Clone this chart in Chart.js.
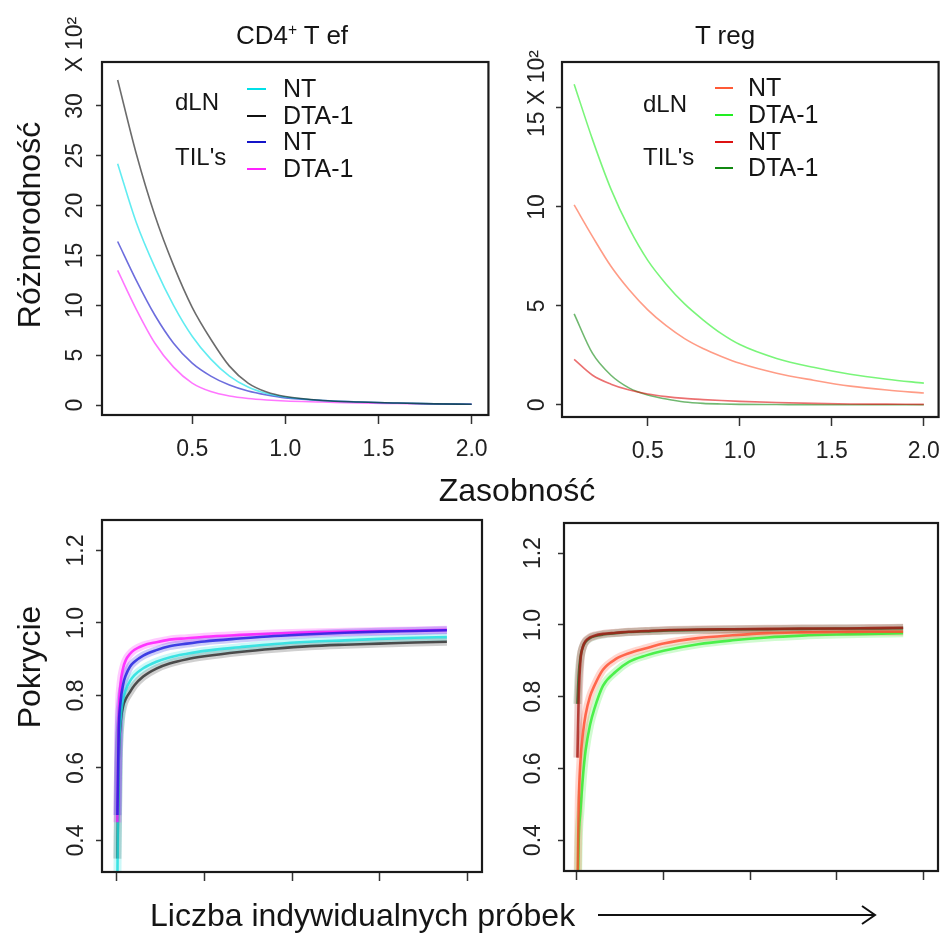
<!DOCTYPE html>
<html>
<head>
<meta charset="utf-8">
<script src="https://cdn.jsdelivr.net/npm/chart.js@4.4.1/dist/chart.umd.min.js"></script>
<style>
  body { margin: 0; background: #fff; width: 952px; height: 935px; position: relative; overflow: hidden;
         font-family: "Liberation Sans", Arial, sans-serif; color: #151515; }
  canvas { position: absolute; }
  .txt { position: absolute; white-space: nowrap; line-height: 1; transform: translate(-50%, -50%); z-index: 2; }
  .rot { transform: translate(-50%, -50%) rotate(-90deg); }
  .title { font-size: 26px; }
  .axis { font-size: 32px; }
  sup { font-size: 60%; vertical-align: 0.55em; }
</style>
</head>
<body>

<canvas id="tef" width="500" height="470" style="left:0;top:0"></canvas>
<canvas id="treg" width="452" height="470" style="left:500px;top:0"></canvas>
<canvas id="covTef" width="500" height="465" style="left:0;top:470px"></canvas>
<canvas id="covTreg" width="452" height="465" style="left:500px;top:470px"></canvas>

<div class="txt title" style="left:292px;top:35px">CD4<sup>+</sup> T ef</div>
<div class="txt title" style="left:725px;top:35px">T reg</div>
<div class="txt axis rot" style="left:29px;top:225px">Różnorodność</div>
<div class="txt axis" style="left:517px;top:490px">Zasobność</div>
<div class="txt axis rot" style="left:29px;top:667px">Pokrycie</div>
<div class="txt axis" style="left:150px;top:915px;transform:translate(0,-50%)">Liczba indywidualnych próbek</div>
<svg style="position:absolute;left:590px;top:900px" width="300" height="30">
  <line x1="8" y1="15" x2="284" y2="15" stroke="#111" stroke-width="2"/>
  <polyline points="272,6 285,15 272,24" fill="none" stroke="#111" stroke-width="2"/>
</svg>

<script>
// ---- diversity profiles (top row), x = order q, y in units of 10^2 ----
const qValues = [0.1, 0.2, 0.3, 0.4, 0.5, 0.6, 0.7, 0.8, 0.9, 1.0, 1.2, 1.4, 1.6, 1.8, 2.0];

const tefDlnNT  = [24.2, 18.3, 13.8, 10.0, 6.9, 4.6, 2.9, 1.8, 1.15, 0.8, 0.45, 0.3, 0.2, 0.12, 0.08];
const tefDlnDTA = [32.6, 25.2, 19.0, 14.0, 9.8, 6.6, 3.9, 2.2, 1.3, 0.85, 0.45, 0.3, 0.2, 0.12, 0.08];
const tefTilNT  = [16.4, 12.5, 9.0, 6.2, 4.2, 2.9, 2.0, 1.4, 1.0, 0.7, 0.45, 0.3, 0.2, 0.12, 0.08];
const tefTilDTA = [13.5, 9.6, 6.2, 3.8, 2.2, 1.35, 0.9, 0.65, 0.5, 0.4, 0.3, 0.2, 0.15, 0.1, 0.08];

const tregDlnNT  = [10.1, 8.5, 7.0, 5.8, 4.8, 4.0, 3.35, 2.85, 2.45, 2.1, 1.6, 1.25, 0.95, 0.75, 0.6];
const tregDlnDTA = [16.2, 13.4, 10.9, 8.9, 7.3, 6.1, 5.1, 4.3, 3.6, 3.05, 2.35, 1.9, 1.55, 1.3, 1.1];
const tregTilNT  = [2.3, 1.5, 1.05, 0.75, 0.55, 0.42, 0.33, 0.27, 0.22, 0.18, 0.12, 0.08, 0.05, 0.04, 0.03];
const tregTilDTA = [4.6, 2.6, 1.5, 0.85, 0.5, 0.3, 0.15, 0.08, 0.05, 0.03, 0.02, 0.01, 0.01, 0.01, 0.01];

// ---- coverage curves (bottom row), x = number of samples (arbitrary units) ----
const sampleValues = [0.005, 0.02, 0.04, 0.07, 0.1, 0.15, 0.2, 0.3, 0.45, 0.6, 0.8, 1.0, 1.4, 1.8, 2.2, 2.6, 3.0, 3.4, 3.77];

const covTefDlnNT  = [0.30, 0.62, 0.73, 0.79, 0.815, 0.84, 0.856, 0.875, 0.893, 0.905, 0.915, 0.923, 0.933, 0.942, 0.948, 0.952, 0.956, 0.959, 0.961];
const covTefDlnDTA = [0.35, 0.62, 0.72, 0.77, 0.79, 0.81, 0.828, 0.852, 0.874, 0.888, 0.90, 0.908, 0.92, 0.929, 0.936, 0.94, 0.943, 0.946, 0.948];
const covTefTilNT  = [0.47, 0.70, 0.78, 0.83, 0.855, 0.88, 0.893, 0.91, 0.925, 0.936, 0.943, 0.949, 0.957, 0.964, 0.969, 0.973, 0.976, 0.978, 0.98];
const covTefTilDTA = [0.45, 0.74, 0.83, 0.875, 0.897, 0.915, 0.926, 0.938, 0.947, 0.954, 0.958, 0.962, 0.967, 0.971, 0.974, 0.976, 0.978, 0.979, 0.981];

const covTregDlnNT  = [0.25, 0.50, 0.62, 0.70, 0.75, 0.80, 0.83, 0.875, 0.905, 0.921, 0.935, 0.948, 0.963, 0.971, 0.977, 0.979, 0.98, 0.981, 0.981];
const covTregDlnDTA = [0.20, 0.40, 0.48, 0.58, 0.65, 0.72, 0.765, 0.83, 0.87, 0.897, 0.915, 0.928, 0.946, 0.957, 0.965, 0.97, 0.973, 0.975, 0.977];
const covTregTilNT  = [0.63, 0.80, 0.90, 0.94, 0.955, 0.965, 0.97, 0.975, 0.978, 0.981, 0.983, 0.985, 0.987, 0.988, 0.989, 0.99, 0.99, 0.991, 0.992];
const covTregTilDTA = [0.78, 0.86, 0.91, 0.94, 0.953, 0.963, 0.968, 0.973, 0.977, 0.98, 0.982, 0.984, 0.986, 0.987, 0.988, 0.989, 0.99, 0.99, 0.991];

// ---- labels / ticks ----
const groupLabels = ['dLN', "TIL's"];
const seriesLabels = ['NT', 'DTA-1', 'NT', 'DTA-1'];
const tefColors  = ['#00e0e8', '#111111', '#1414c8', '#ff22ff'];
const tregColors = ['#ff5a36', '#22ee22', '#dd1111', '#118811'];
const covTefColors  = ['#19dede', '#2a2a2a', '#1a1ae0', '#ff10ff'];
const covTregColors = ['#ff4a2a', '#2aee2a', '#a81a14', '#2a6a2a'];

const qTicks = [0.5, 1.0, 1.5, 2.0];
const tefYTicks = [0, 5, 10, 15, 20, 25, 30];
const tregYTicks = [0, 5, 10, 15];
const covYTicks = [0.4, 0.6, 0.8, 1.0, 1.2];
const sampleTicks = [0, 1, 2, 3, 4];

const FONT = '"Liberation Sans", Arial, sans-serif';

function rgba(hex, a) {
  const n = parseInt(hex.slice(1), 16);
  return `rgba(${n >> 16},${(n >> 8) & 255},${n & 255},${a})`;
}

function toPoints(xs, ys) {
  return ys.map((y, i) => ({ x: xs[i], y: y }));
}

// R-like box, rotated y tick labels, and the small legend
const rPlot = {
  id: 'rplot',
  afterDraw(chart, args, opts) {
    const { ctx, chartArea: a, scales } = chart;
    ctx.save();
    ctx.strokeStyle = '#1a1a1a';
    ctx.lineWidth = 2.2;
    ctx.strokeRect(a.left, a.top, a.right - a.left, a.bottom - a.top);

    ctx.fillStyle = '#222';
    ctx.font = `23px ${FONT}`;
    ctx.textBaseline = 'middle';
    const ys = scales.y;
    const lx = a.left - opts.labelOffset;
    ys.ticks.forEach(t => {
      if (opts.skipTick === t.value) return;
      ctx.save();
      ctx.translate(lx, ys.getPixelForValue(t.value));
      ctx.rotate(-Math.PI / 2);
      ctx.textAlign = 'center';
      ctx.fillText(opts.fmt(t.value), 0, 0);
      ctx.restore();
    });
    if (opts.extra) {
      ctx.save();
      ctx.translate(lx, ys.getPixelForValue(opts.extra.value) + opts.extra.shift);
      ctx.rotate(-Math.PI / 2);
      ctx.textAlign = 'left';
      ctx.fillText(opts.extra.text, 0, 0);
      ctx.restore();
    }

    if (opts.legend) {
      const L = opts.legend;
      ctx.fillStyle = '#151515';
      ctx.textAlign = 'left';
      ctx.font = `24px ${FONT}`;
      groupLabels.forEach((g, i) => {
        ctx.fillText(g, a.left + L.groupX, a.top + L.groupY[i]);
      });
      ctx.font = `25px ${FONT}`;
      seriesLabels.forEach((s, i) => {
        const y = a.top + L.rowY[i];
        ctx.strokeStyle = L.colors[i];
        ctx.lineWidth = 2;
        ctx.beginPath();
        ctx.moveTo(a.left + L.lineX[0], y);
        ctx.lineTo(a.left + L.lineX[1], y);
        ctx.stroke();
        ctx.fillText(s, a.left + L.textX, y + 1);
      });
    }
    ctx.restore();
  }
};

// series listed top-most first (Chart.js paints dataset 0 last)
function makeChart(id, cfg) {
  const datasets = [];
  cfg.series.forEach((s, i) => {
    datasets.push({
      data: toPoints(cfg.xs, s),
      borderColor: rgba(cfg.colors[i], cfg.alpha),
      borderWidth: cfg.lineWidth,
      pointRadius: 0,
      fill: false,
      cubicInterpolationMode: 'monotone'
    });
  });
  if (cfg.halo) {
    // soft wide stroke under each curve: the bundle of replicate curves
    cfg.series.forEach((s, i) => {
      datasets.push({
        data: toPoints(cfg.xs, s),
        borderColor: rgba(cfg.colors[i], 0.22),
        borderWidth: cfg.halo,
        pointRadius: 0,
        fill: false,
        cubicInterpolationMode: 'monotone'
      });
    });
  }
  return new Chart(document.getElementById(id), {
    type: 'line',
    data: { datasets },
    plugins: [rPlot],
    options: {
      responsive: false,
      animation: false,
      devicePixelRatio: 1,
      layout: { padding: cfg.padding },
      plugins: {
        legend: { display: false },
        tooltip: { enabled: false },
        rplot: cfg.plot
      },
      scales: {
        x: {
          type: 'linear',
          min: cfg.xRange[0],
          max: cfg.xRange[1],
          afterBuildTicks: s => { s.ticks = cfg.xTicks.map(v => ({ value: v })); },
          afterFit: s => { s.height = cfg.xHeight; },
          border: { display: false },
          grid: { drawOnChartArea: false, drawTicks: true, tickLength: 9, tickColor: '#333', tickWidth: 1.5 },
          ticks: {
            display: cfg.xLabels,
            autoSkip: false,
            maxRotation: 0,
            padding: 12,
            color: '#222',
            font: { family: FONT, size: 23 },
            callback: v => Number(v).toFixed(1)
          }
        },
        y: {
          type: 'linear',
          min: cfg.yRange[0],
          max: cfg.yRange[1],
          afterBuildTicks: s => { s.ticks = cfg.yTicks.map(v => ({ value: v })); },
          afterFit: s => { s.width = cfg.yWidth; },
          border: { display: false },
          grid: { drawOnChartArea: false, drawTicks: true, tickLength: 6, tickColor: '#333', tickWidth: 1.5 },
          ticks: { display: false }
        }
      }
    }
  });
}

makeChart('tef', {
  xs: qValues,
  series: [tefDlnDTA, tefDlnNT, tefTilNT, tefTilDTA],
  colors: [tefColors[1], tefColors[0], tefColors[2], tefColors[3]],
  alpha: 0.62, lineWidth: 1.6,
  padding: { top: 62, right: 8, left: 0, bottom: 0 },
  yWidth: 102, xHeight: 55,
  xRange: [0.016, 2.09], yRange: [-1.0, 34.4],
  xTicks: qTicks, yTicks: tefYTicks, xLabels: true,
  plot: {
    labelOffset: 26, fmt: v => String(v),
    extra: { value: 30, shift: -34, text: 'X 10²' },
    legend: { colors: tefColors, groupX: 73, groupY: [41, 96], lineX: [145, 164], textX: 181, rowY: [27, 54, 80, 107] }
  }
});

makeChart('treg', {
  xs: qValues,
  series: [tregDlnDTA, tregDlnNT, tregTilNT, tregTilDTA],
  colors: [tregColors[1], tregColors[0], tregColors[2], tregColors[3]],
  alpha: 0.6, lineWidth: 1.6,
  padding: { top: 62, right: 4, left: 0, bottom: 0 },
  yWidth: 62, xHeight: 53,
  xRange: [0.034, 2.08], yRange: [-0.61, 17.32],
  xTicks: qTicks, yTicks: tregYTicks, xLabels: true,
  plot: {
    labelOffset: 24, fmt: v => String(v), skipTick: 15,
    extra: { value: 15, shift: 29, text: '15 X 10²' },
    legend: { colors: tregColors, groupX: 81, groupY: [43, 96], lineX: [153, 171], textX: 186, rowY: [26, 53, 80, 106] }
  }
});

makeChart('covTef', {
  xs: sampleValues,
  series: [covTefTilNT, covTefTilDTA, covTefDlnNT, covTefDlnDTA],
  colors: [covTefColors[2], covTefColors[3], covTefColors[0], covTefColors[1]],
  alpha: 0.8, lineWidth: 2.6, halo: 8,
  padding: { top: 50, right: 18, left: 0, bottom: 0 },
  yWidth: 102, xHeight: 63,
  xRange: [-0.171, 4.171], yRange: [0.313, 1.284],
  xTicks: sampleTicks, yTicks: covYTicks, xLabels: false,
  plot: { labelOffset: 25, fmt: v => v.toFixed(1) }
});

makeChart('covTreg', {
  xs: sampleValues,
  series: [covTregTilNT, covTregTilDTA, covTregDlnNT, covTregDlnDTA],
  colors: [covTregColors[2], covTregColors[3], covTregColors[0], covTregColors[1]],
  alpha: 0.8, lineWidth: 2.6, halo: 8,
  padding: { top: 53, right: 14, left: 0, bottom: 0 },
  yWidth: 64, xHeight: 64,
  xRange: [-0.15, 4.173], yRange: [0.314, 1.284],
  xTicks: sampleTicks, yTicks: covYTicks, xLabels: false,
  plot: { labelOffset: 30, fmt: v => v.toFixed(1) }
});
</script>
</body>
</html>
